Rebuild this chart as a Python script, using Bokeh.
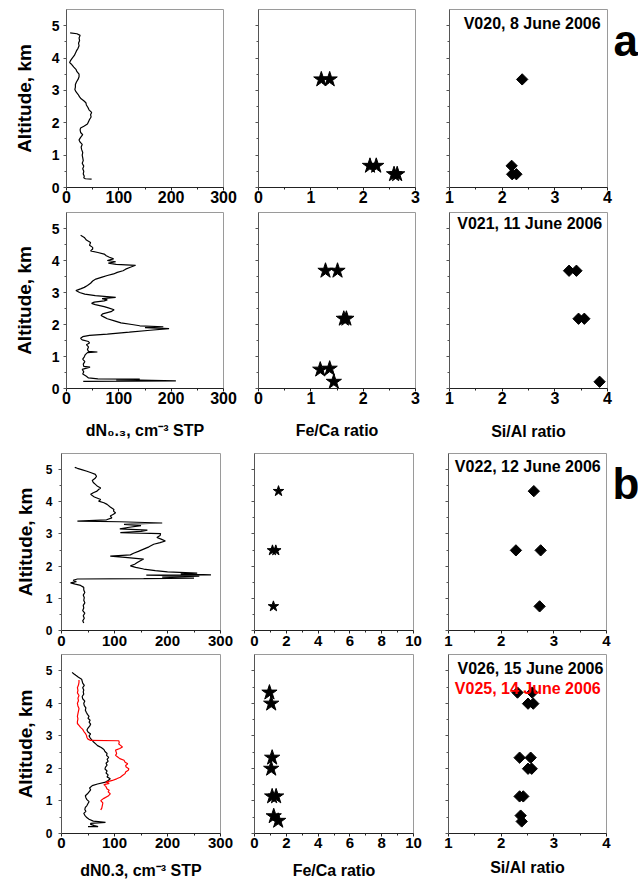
import math
from bokeh.plotting import figure
from bokeh.layouts import column, row
from bokeh.models import Range1d, FixedTicker, Label, CustomJSTickFormatter
from bokeh.embed import file_html
from bokeh.resources import INLINE

FONT = "Liberation Sans"

# ---------------- data ----------------
alt_ticks = [0, 1, 2, 3, 4, 5]
alt_minor = [0.5, 1.5, 2.5, 3.5, 4.5]
dn_ticks = [0, 100, 200, 300]
dn_minor = [50, 150, 250]
feca_ticks_a = [0, 1, 2, 3]
feca_minor_a = [0.5, 1.5, 2.5]
feca_ticks_b = [0, 2, 4, 6, 8, 10]
feca_minor_b = [1, 3, 5, 7, 9]
sial_ticks = [1, 2, 3, 4]
sial_minor = [1.5, 2.5, 3.5]

# V020, 8 June 2006 : particle profile
v020_alt = [0.26, 0.27, 0.30, 0.35, 0.42, 0.50, 0.58, 0.66, 0.75, 0.83,
            0.92, 1.00, 1.08, 1.17, 1.25, 1.33, 1.40, 1.47, 1.55, 1.63,
            1.70, 1.78, 1.84, 1.90, 1.96, 2.03, 2.10, 2.18, 2.25, 2.32,
            2.40, 2.47, 2.55, 2.62, 2.68, 2.74, 2.80, 2.88, 2.96, 3.03,
            3.10, 3.18, 3.26, 3.34, 3.42, 3.50, 3.58, 3.65, 3.72, 3.80,
            3.86, 3.93, 4.00, 4.08, 4.15, 4.22, 4.30, 4.38, 4.46, 4.54,
            4.62, 4.70, 4.75, 4.78]
v020_dn = [48, 36, 33, 34, 32, 33, 31, 33, 30, 32,
           31, 30, 31, 29, 28, 30, 26, 24, 27, 31,
           27, 26, 27, 34, 40, 42, 44, 47, 46, 48,
           43, 41, 38, 37, 33, 28, 25, 22, 18, 16,
           17, 17, 19, 22, 24, 24, 20, 18, 14, 10,
           6, 8, 11, 15, 17, 19, 22, 24, 23, 25,
           24, 26, 20, 7]

# V021, 11 June 2006
v021_alt = [0.22, 0.24, 0.26, 0.27, 0.29, 0.30, 0.33, 0.38, 0.45, 0.52,
            0.60, 0.67, 0.69, 0.76, 0.84, 0.92, 0.99, 1.06, 1.12, 1.14,
            1.16, 1.22, 1.30, 1.37, 1.42, 1.47, 1.52, 1.57, 1.62, 1.66,
            1.70, 1.76, 1.82, 1.87, 1.90, 1.93, 1.96, 2.00, 2.05, 2.12,
            2.18, 2.23, 2.28, 2.33, 2.40, 2.46, 2.52, 2.56, 2.62, 2.66,
            2.70, 2.74, 2.77, 2.81, 2.85, 2.90, 2.95, 3.00, 3.06, 3.12,
            3.16, 3.22, 3.29, 3.36, 3.42, 3.48, 3.53, 3.58, 3.63, 3.68,
            3.73, 3.79, 3.85, 3.88, 3.92, 3.96, 4.00, 4.05, 4.10, 4.15,
            4.20, 4.25, 4.30, 4.36, 4.41, 4.48, 4.56, 4.64, 4.72, 4.79]
v021_dn = [32, 209, 140, 95, 140, 60, 42, 38, 31, 33,
           30, 45, 33, 32, 35, 31, 34, 36, 40, 59,
           42, 40, 42, 38, 44, 42, 30, 27, 31, 44,
           78, 120, 160, 196, 150, 185, 140, 125, 104, 90,
           78, 72, 66, 69, 85, 91, 80, 72, 55, 48,
           53, 72, 78, 68, 94, 55, 35, 25, 18, 28,
           34, 40, 46, 50, 56, 68, 78, 90, 97, 108,
           113, 122, 132, 95, 80, 94, 78, 90, 82, 76,
           72, 60, 46, 50, 50, 44, 46, 38, 34, 27]

# V022, 12 June 2006
v022_alt = [0.23, 0.30, 0.38, 0.46, 0.54, 0.62, 0.70, 0.78, 0.86, 0.94,
            1.02, 1.10, 1.18, 1.26, 1.34, 1.40, 1.44, 1.48, 1.52, 1.56,
            1.60, 1.61, 1.63, 1.66, 1.69, 1.72, 1.73, 1.76, 1.78, 1.82,
            1.86, 1.91, 1.96, 2.01, 2.06, 2.11, 2.16, 2.22, 2.27, 2.31,
            2.35, 2.40, 2.46, 2.53, 2.60, 2.68, 2.73, 2.78, 2.84, 2.89,
            2.95, 3.01, 3.04, 3.08, 3.12, 3.16, 3.20, 3.26, 3.30, 3.34,
            3.38, 3.40, 3.44, 3.50, 3.56, 3.61, 3.66, 3.71, 3.76, 3.84,
            3.92, 3.97, 4.02, 4.07, 4.15, 4.23, 4.28, 4.33, 4.38, 4.43,
            4.48, 4.54, 4.60, 4.66, 4.72, 4.79, 4.85, 4.90, 4.95, 5.00,
            5.04, 5.07]
v022_dn = [42, 40, 43, 41, 44, 40, 42, 41, 44, 42,
           43, 41, 44, 42, 42, 36, 26, 17, 28, 22,
           30, 155, 250, 190, 260, 160, 282, 225, 256, 200,
           177, 155, 140, 130, 138, 143, 148, 155, 120, 92,
           130, 136, 145, 155, 165, 174, 186, 196, 188, 180,
           186, 187, 111, 150, 162, 110, 125, 150, 118, 190,
           110, 30, 85, 95, 92, 98, 102, 98, 99, 92,
           86, 80, 70, 74, 62, 55, 60, 67, 70, 74,
           68, 64, 60, 58, 63, 66, 64, 56, 48, 38,
           30, 25]

# V026, 15 June 2006 (black)
v026_alt = [0.21, 0.21, 0.24, 0.28, 0.31, 0.34, 0.38, 0.44, 0.50, 0.56,
            0.62, 0.68, 0.74, 0.80, 0.86, 0.92, 0.98, 1.04, 1.10, 1.16,
            1.22, 1.28, 1.34, 1.40, 1.47, 1.52, 1.58, 1.63, 1.68, 1.74,
            1.80, 1.86, 1.92, 1.98, 2.04, 2.10, 2.16, 2.22, 2.28, 2.34,
            2.40, 2.46, 2.52, 2.58, 2.64, 2.70, 2.76, 2.82, 2.88, 2.94,
            3.00, 3.06, 3.12, 3.18, 3.24, 3.30, 3.36, 3.42, 3.48, 3.54,
            3.60, 3.66, 3.72, 3.79, 3.86, 3.93, 4.00, 4.07, 4.14, 4.21,
            4.28, 4.35, 4.41, 4.48, 4.55, 4.62, 4.68, 4.74, 4.80, 4.86,
            4.91, 4.95]
v026_dn = [50, 69, 62, 55, 55, 83, 60, 52, 47, 44,
           42, 46, 44, 45, 48, 50, 52, 48, 46, 45,
           49, 52, 55, 53, 58, 68, 83, 88, 92, 86,
           88, 84, 86, 82, 83, 86, 84, 88, 86, 89,
           85, 86, 82, 80, 75, 68, 64, 60, 57, 54,
           52, 55, 50, 48, 50, 53, 55, 52, 54, 50,
           52, 49, 47, 45, 46, 43, 42, 44, 40, 39,
           42, 41, 42, 40, 43, 40, 39, 38, 32, 27,
           23, 20]

# V025, 14 June 2006 (red)
v025_alt = [0.72, 0.78, 0.86, 0.94, 1.01, 1.08, 1.15, 1.22, 1.28, 1.33,
            1.37, 1.44, 1.50, 1.54, 1.58, 1.63, 1.68, 1.73, 1.78, 1.84,
            1.89, 1.94, 1.99, 2.04, 2.09, 2.14, 2.19, 2.25, 2.30, 2.35,
            2.40, 2.46, 2.51, 2.56, 2.61, 2.66, 2.70, 2.75, 2.80, 2.85,
            2.86, 2.90, 2.95, 3.02, 3.08, 3.14, 3.20, 3.26, 3.32, 3.38,
            3.44, 3.52, 3.60, 3.68, 3.76, 3.84, 3.92, 4.00, 4.08, 4.16,
            4.24, 4.32, 4.40, 4.48, 4.56, 4.64, 4.72]
v025_dn = [74, 76, 77, 78, 74, 80, 88, 92, 88, 90,
           86, 84, 80, 90, 84, 96, 104, 111, 115, 120,
           121, 126, 127, 122, 121, 125, 120, 118, 110, 106,
           102, 104, 103, 102, 110, 115, 112, 108, 109, 108,
           55, 50, 48, 47, 45, 42, 40, 36, 33, 30,
           30, 31, 30, 31, 32, 33, 31, 30, 32, 31,
           33, 30, 31, 30, 32, 33, 33]

# Fe/Ca and Si/Al ratios
v020_feca = [1.20, 1.36, 2.13, 2.25, 2.59, 2.65]
v020_feca_alt = [3.34, 3.34, 0.67, 0.67, 0.41, 0.41]
v020_sial = [2.38, 2.18, 2.19, 2.27]
v020_sial_alt = [3.34, 0.67, 0.41, 0.41]

v021_feca = [1.28, 1.51, 1.63, 1.68, 1.18, 1.36, 1.44]
v021_feca_alt = [3.68, 3.68, 2.18, 2.18, 0.59, 0.62, 0.21]
v021_sial = [3.27, 3.41, 3.45, 3.56, 3.85]
v021_sial_alt = [3.68, 3.68, 2.18, 2.18, 0.21]

v022_feca = [1.51, 1.13, 1.34, 1.19]
v022_feca_alt = [4.33, 2.49, 2.49, 0.75]
v022_sial = [2.62, 2.28, 2.75, 2.73]
v022_sial_alt = [4.33, 2.49, 2.49, 0.75]

v026_feca = [0.94, 1.05, 1.11, 1.05, 1.11, 1.36, 1.21, 1.49]
v026_feca_alt = [4.33, 3.99, 2.33, 1.99, 1.14, 1.14, 0.53, 0.39]
v026_sial = [2.31, 2.59, 2.51, 2.61, 2.35, 2.56, 2.51, 2.58, 2.35, 2.42, 2.37, 2.39]
v026_sial_alt = [4.33, 4.33, 3.99, 3.99, 2.33, 2.33, 1.99, 1.99, 1.14, 1.14, 0.55, 0.37]

flight_labels = ["V020, 8 June 2006", "V021, 11 June 2006", "V022, 12 June 2006",
                 "V026, 15 June 2006", "V025, 14 June 2006"]
panel_letters = ["a", "b"]

for a, b in [(v020_alt, v020_dn), (v021_alt, v021_dn), (v022_alt, v022_dn),
             (v026_alt, v026_dn), (v025_alt, v025_dn)]:
    assert len(a) == len(b), (len(a), len(b))


# ---------------- helpers ----------------
def make_fig(width, height, left, right, top, bottom, xr, yr):
    p = figure(width=width, height=height, output_backend="svg", toolbar_location=None,
               x_range=Range1d(*xr), y_range=Range1d(*yr),
               min_border_left=left, min_border_right=right,
               min_border_top=top, min_border_bottom=bottom)
    p.grid.visible = False
    p.outline_line_color = "#9a9a9a"
    p.outline_line_width = 1
    p.background_fill_color = "white"
    p.border_fill_color = "white"
    return p


def letter_fig(width, height, letter, baseline_px):
    p = figure(width=width, height=height, output_backend="svg", toolbar_location=None,
               x_range=Range1d(0, width), y_range=Range1d(height, 0),
               min_border=0, x_axis_location=None, y_axis_location=None)
    p.grid.visible = False
    p.outline_line_color = None
    p.background_fill_color = "white"
    p.border_fill_color = "white"
    p.add_layout(Label(x=0, y=baseline_px, text=letter, text_font=FONT,
                       text_font_style="bold", text_font_size="44px", text_color="black",
                       text_align="left", text_baseline="alphabetic"))
    return p


def style_x(p, ticks, minor, size, standoff, label=None, label_size="16px", label_standoff=15):
    ax = p.xaxis[0]
    ax.ticker = FixedTicker(ticks=ticks, minor_ticks=minor)
    ax.major_tick_in = 0
    ax.major_tick_out = 3
    ax.minor_tick_in = 0
    ax.minor_tick_out = 2
    ax.axis_line_color = "#222222"
    ax.major_tick_line_color = "#222222"
    ax.minor_tick_line_color = "#222222"
    ax.major_label_text_font = FONT
    ax.major_label_text_font_style = "bold"
    ax.major_label_text_font_size = size
    ax.major_label_text_color = "black"
    ax.major_label_standoff = standoff
    if label:
        ax.axis_label = label
        ax.axis_label_text_font = FONT
        ax.axis_label_text_font_style = "bold"
        ax.axis_label_text_font_size = label_size
        ax.axis_label_text_color = "black"
        ax.axis_label_standoff = label_standoff


def style_y(p, show_labels, size="14px", standoff=4, label_standoff=14):
    ax = p.yaxis[0]
    ax.ticker = FixedTicker(ticks=alt_ticks, minor_ticks=alt_minor)
    ax.major_tick_in = 0
    ax.major_tick_out = 3
    ax.minor_tick_in = 0
    ax.minor_tick_out = 2
    ax.axis_line_color = "#555555"
    ax.major_tick_line_color = "#555555"
    ax.minor_tick_line_color = "#555555"
    if show_labels:
        ax.major_label_text_font = FONT
        ax.major_label_text_font_style = "bold"
        ax.major_label_text_font_size = size
        ax.major_label_text_color = "black"
        ax.major_label_standoff = standoff
        ax.axis_label = "Altitude, km"
        ax.axis_label_text_font = FONT
        ax.axis_label_text_font_style = "bold"
        ax.axis_label_text_font_size = "19px"
        ax.axis_label_text_color = "black"
        ax.axis_label_standoff = label_standoff
    else:
        ax.formatter = CustomJSTickFormatter(code="return ''")
        ax.major_label_standoff = 0


def add_text(p, x, y, text, color="black", size="16px"):
    p.add_layout(Label(x=x, y=y, text=text, text_font=FONT, text_font_style="bold",
                       text_font_size=size, text_color=color, text_align="right",
                       text_baseline="top"))


YR = (0, 5.5)
DN_LABEL_A = "dN\u2080.\u2083, cm\u207b\u00b3 STP"
DN_LABEL_B = "dN0.3, cm\u207b\u00b3 STP"
STAR = dict(marker="star", fill_color="black", line_color="black")
DIAM = dict(marker="square", angle=math.pi / 4, fill_color="black", line_color="black")

# ---------------- row 1 (a, V020) ----------------
r1c1 = make_fig(240, 210, 66, 17, 9, 23, (0, 300), YR)
style_x(r1c1, dn_ticks, dn_minor, "16px", 0)
style_y(r1c1, True, "14px", 4, 14)
r1c1.line(v020_dn, v020_alt, line_color="black", line_width=1.2)

r1c2 = make_fig(192, 210, 18, 17, 9, 23, (0, 3), YR)
style_x(r1c2, feca_ticks_a, feca_minor_a, "16px", 0)
style_y(r1c2, False)
r1c2.scatter(v020_feca, v020_feca_alt, size=16, **STAR)

r1c3 = make_fig(181, 210, 17, 6, 9, 23, (1, 4), YR)
style_x(r1c3, sial_ticks, sial_minor, "16px", 0)
style_y(r1c3, False)
r1c3.scatter(v020_sial, v020_sial_alt, size=8, **DIAM)
add_text(r1c3, 3.87, 5.32, flight_labels[0])
r1l = letter_fig(25, 210, panel_letters[0], 37)

# ---------------- row 2 (a, V021) ----------------
r2c1 = make_fig(240, 239, 66, 17, 2, 61, (0, 300), YR)
style_x(r2c1, dn_ticks, dn_minor, "16px", 0, DN_LABEL_A, "16px", 15)
style_y(r2c1, True, "14px", 4, 14)
r2c1.line(v021_dn, v021_alt, line_color="black", line_width=1.2)

r2c2 = make_fig(192, 239, 18, 17, 2, 61, (0, 3), YR)
style_x(r2c2, feca_ticks_a, feca_minor_a, "16px", 0, "Fe/Ca ratio", "16px", 15)
style_y(r2c2, False)
r2c2.scatter(v021_feca, v021_feca_alt, size=16, **STAR)

r2c3 = make_fig(206, 239, 17, 31, 2, 61, (1, 4), YR)
style_x(r2c3, sial_ticks, sial_minor, "16px", 0, "Si/Al ratio", "16px", 16)
style_y(r2c3, False)
r2c3.scatter(v021_sial, v021_sial_alt, size=8, **DIAM)
add_text(r2c3, 3.90, 5.41, flight_labels[1])

# ---------------- row 3 (b, V022) ----------------
r3c1 = make_fig(237, 204, 61, 17, 4, 23, (0, 300), YR)
style_x(r3c1, dn_ticks, dn_minor, "15px", 2)
style_y(r3c1, True, "12px", 6, 7)
r3c1.line(v022_dn, v022_alt, line_color="black", line_width=1.2)

r3c2 = make_fig(193, 204, 17, 17, 4, 23, (0, 10), YR)
style_x(r3c2, feca_ticks_b, feca_minor_b, "15px", 2)
style_y(r3c2, False)
r3c2.scatter(v022_feca, v022_feca_alt, size=11, **STAR)

r3c3 = make_fig(182, 204, 18, 6, 4, 23, (1, 4), YR)
style_x(r3c3, sial_ticks, sial_minor, "15px", 2)
style_y(r3c3, False)
r3c3.scatter(v022_sial, v022_sial_alt, size=8, **DIAM)
add_text(r3c3, 3.89, 5.35, flight_labels[2])
r3l = letter_fig(26, 204, panel_letters[1], 34)

# ---------------- row 4 (b, V026 / V025) ----------------
r4c1 = make_fig(237, 234, 61, 17, 1, 54, (0, 300), YR)
style_x(r4c1, dn_ticks, dn_minor, "15px", 1, DN_LABEL_B, "16px", 11)
style_y(r4c1, True, "12px", 6, 7)
r4c1.line(v026_dn, v026_alt, line_color="black", line_width=1.2)
r4c1.line(v025_dn, v025_alt, line_color="#ff0000", line_width=1.2)

r4c2 = make_fig(193, 234, 17, 17, 1, 54, (0, 10), YR)
style_x(r4c2, feca_ticks_b, feca_minor_b, "15px", 1, "Fe/Ca ratio", "16px", 11)
style_y(r4c2, False)
r4c2.scatter(v026_feca, v026_feca_alt, size=16, **STAR)

r4c3 = make_fig(208, 234, 18, 32, 1, 54, (1, 4), YR)
style_x(r4c3, sial_ticks, sial_minor, "15px", 1, "Si/Al ratio", "16px", 8)
style_y(r4c3, False)
r4c3.scatter(v026_sial, v026_sial_alt, size=8, **DIAM)
add_text(r4c3, 3.94, 5.32, flight_labels[3])
add_text(r4c3, 3.89, 4.73, flight_labels[4], color="#ff0000")

layout = column(row(r1c1, r1c2, r1c3, r1l), row(r2c1, r2c2, r2c3),
                row(r3c1, r3c2, r3c3, r3l), row(r4c1, r4c2, r4c3))

with open("out.html", "w") as f:
    f.write(file_html(layout, INLINE))
